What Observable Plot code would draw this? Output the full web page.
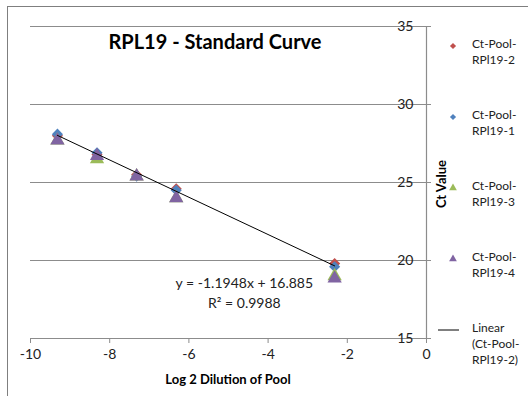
<!DOCTYPE html>
<html><head><meta charset="utf-8">
<script src="https://cdn.jsdelivr.net/npm/d3@7"></script>
<script src="https://cdn.jsdelivr.net/npm/@observablehq/plot@0.6"></script>
<style>
body{margin:0;background:#fff;font-family:Lato,"Open Sans",sans-serif;}
#wrap{position:relative;width:528px;height:396px;overflow:hidden;}
#frame{position:absolute;left:7px;top:6px;width:600px;height:500px;border:1px solid #7f7f7f;box-sizing:border-box;}
#chart{position:absolute;left:0;top:0;}
.title{position:absolute;left:0;width:430px;top:29px;text-align:center;font-weight:bold;font-size:20px;color:#000;}
.xtitle{position:absolute;left:30px;width:396px;top:371px;text-align:center;font-weight:bold;font-size:13px;}
.ytitle{position:absolute;left:441px;top:184px;transform:translate(-50%,-50%) rotate(-90deg);font-weight:bold;font-size:13px;white-space:nowrap;}
.legend{position:absolute;left:436px;top:36px;font-size:12px;color:#222;}
.li{position:absolute;left:0;width:100px;line-height:16px;}
.li svg{position:absolute;left:0;top:4px;}
.li span{position:absolute;left:36px;top:0;white-space:nowrap;}
</style></head>
<body>
<div id="wrap"><div id="frame"></div><div id="chart"></div>
<div class="title" id="title"></div>
<div class="xtitle" id="xtitle"></div>
<div class="ytitle" id="ytitle"></div>
<div class="legend" id="legend"></div>
</div>
<script>
const titleText = "RPL19 - Standard Curve";
const xTitle = "Log 2 Dilution of Pool";
const yTitle = "Ct Value";
const xValues = [-9.32, -8.32, -7.32, -6.32, -2.32];
const seriesNames = ["Ct-Pool-RPl19-2", "Ct-Pool-RPl19-1", "Ct-Pool-RPl19-3", "Ct-Pool-RPl19-4"];
const seriesColors = ["#C0504D", "#4F81BD", "#9BBB59", "#8064A2"];
const seriesSymbols = ["diamond2", "diamond2", "triangle", "triangle"];
const ctRpl19_2 = [28.0, 26.8, 25.5, 24.6, 19.8];
const ctRpl19_1 = [28.1, 26.9, 25.4, 24.5, 19.6];
const ctRpl19_3 = [27.7, 26.5, 25.4, 24.0, 19.0];
const ctRpl19_4 = [27.7, 26.7, 25.4, 24.0, 18.85];
const trendSlope = -1.1948;
const trendIntercept = 16.885;
const rSquared = 0.9988;
const xTicks = [-10, -8, -6, -4, -2, 0];
const yTicks = [15, 20, 25, 30, 35];

const allSeries = [ctRpl19_2, ctRpl19_1, ctRpl19_3, ctRpl19_4];
const rows = [];
allSeries.forEach((vals, si) => vals.forEach((v, i) => rows.push({x: xValues[i], y: v, s: si})));
const xMin = d3.min(xValues), xMax = d3.max(xValues);
const trend = [{x: xMin, y: trendSlope * xMin + trendIntercept}, {x: xMax, y: trendSlope * xMax + trendIntercept}];
const eqLabel = [{t: `y = ${trendSlope}x + ${trendIntercept}`, x: -4.6, y: 18.5}, {t: `R² = ${rSquared}`, x: -4.6, y: 17.22}];

const chart = Plot.plot({
  width: 528, height: 396,
  marginLeft: 30, marginRight: 102, marginTop: 26, marginBottom: 58,
  style: {fontFamily: "Lato, 'Open Sans', sans-serif", fontSize: "13px", color: "#222", background: "transparent"},
  x: {domain: [-10, 0]},
  y: {domain: [15, 35]},
  marks: [
    Plot.ruleY(yTicks, {stroke: "#8c8c8c", strokeWidth: 1.2}),
    Plot.ruleX([0], {y1: 15, y2: 35, stroke: "#8c8c8c", strokeWidth: 1.2}),
    Plot.axisY({anchor: "right", ticks: yTicks, tickSize: 4, tickFormat: () => "", stroke: "#8c8c8c", label: null}),
    Plot.text(yTicks, {x: 0, y: d => d, dx: -13, textAnchor: "end", fontSize: 14, fill: "#222"}),
    Plot.axisX({anchor: "bottom", ticks: xTicks, tickSize: 5, tickPadding: 6, fontSize: 14, stroke: "#8c8c8c", fill: "#222", label: null, tickFormat: d => String(d)}),
    Plot.dot(rows.filter(d => seriesSymbols[d.s] === "diamond2"), {x: "x", y: "y", symbol: "diamond2", fill: d => seriesColors[d.s], r: 5, stroke: null}),
    Plot.dot(rows.filter(d => seriesSymbols[d.s] === "triangle"), {x: "x", y: "y", symbol: "triangle", fill: d => seriesColors[d.s], r: 5.3, stroke: null}),
    Plot.line(trend, {x: "x", y: "y", stroke: "#000", strokeWidth: 1}),
    Plot.text(eqLabel, {x: "x", y: "y", text: "t", fontSize: 14, fill: "#222"})
  ]
});
document.getElementById("chart").appendChild(chart);
document.getElementById("title").textContent = titleText;
document.getElementById("xtitle").textContent = xTitle;
document.getElementById("ytitle").textContent = yTitle;

const legend = document.getElementById("legend");
const sym = {diamond2: d3.symbolDiamond2, triangle: d3.symbolTriangle};
seriesNames.forEach((name, i) => {
  const div = document.createElement("div");
  div.className = "li";
  div.style.top = (i * 71) + "px";
  const path = d3.symbol(sym[seriesSymbols[i]], seriesSymbols[i] === "triangle" ? 26 : 24)();
  div.innerHTML = `<svg width="36" height="12"><path d="${path}" transform="translate(17,6)" fill="${seriesColors[i]}"/></svg><span>${name.replace("RPl", "<br>RPl")}</span>`;
  legend.appendChild(div);
});
const lin = document.createElement("div");
lin.className = "li";
lin.style.top = (4 * 71) + "px";
lin.innerHTML = `<svg width="36" height="12"><line x1="2" x2="23" y1="6" y2="6" stroke="#000"/></svg><span style="left:36px">Linear<br>(Ct-Pool-<br>RPl19-2)</span>`;
legend.appendChild(lin);
</script>
</body></html>
